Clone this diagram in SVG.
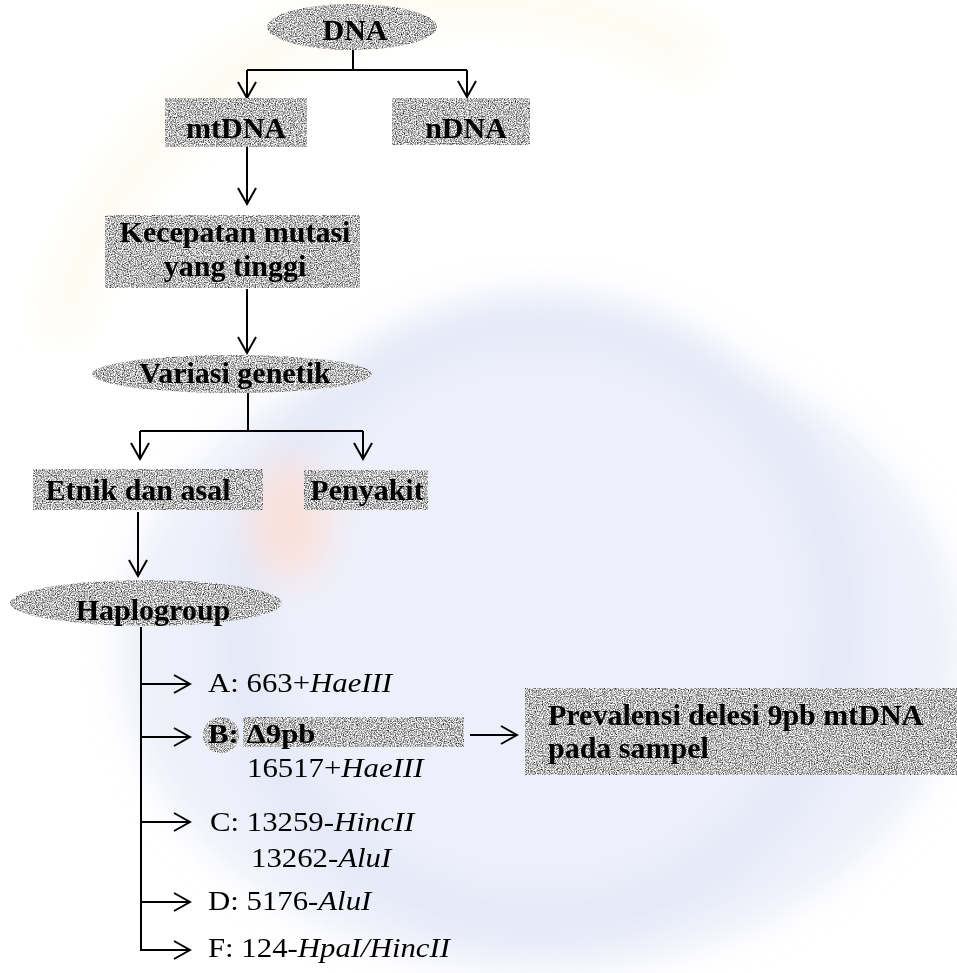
<svg xmlns="http://www.w3.org/2000/svg" width="957" height="973" viewBox="0 0 957 973">
<defs>
<style>
.lbl{font-family:"Liberation Serif","Times New Roman",serif;font-weight:bold;font-size:30px;fill:#000;text-anchor:middle}
.lbl2{font-family:"Liberation Serif","Times New Roman",serif;font-weight:bold;font-size:30px;fill:#000}
.reg{font-family:"Liberation Serif","Times New Roman",serif;font-size:28px;fill:#000}
.it{font-style:italic}
.node{fill:#bdbdbd;filter:url(#spk)}
.conn{stroke:#000;stroke-width:2;fill:none}
</style>
<filter id="spk" x="0%" y="0%" width="100%" height="100%" color-interpolation-filters="sRGB">
<feTurbulence type="fractalNoise" baseFrequency="0.85" numOctaves="2" seed="7" result="n"/>
<feColorMatrix in="n" type="matrix" values="0 0 0 1.7 -0.12  0 0 0 1.7 -0.12  0 0 0 1.7 -0.12  0 0 0 0 1" result="g"/>
<feComposite in="g" in2="SourceAlpha" operator="in"/>
</filter>
<filter id="blur" x="-20%" y="-20%" width="140%" height="140%">
<feGaussianBlur stdDeviation="18"/>
</filter>
<marker id="ah" markerUnits="userSpaceOnUse" viewBox="-19 -11 21 22" refX="0" refY="0" markerWidth="21" markerHeight="22" orient="auto">
<path d="M-16,-9 L0,0 L-16,9" fill="none" stroke="#000" stroke-width="2"/>
</marker>
</defs>
<rect width="957" height="973" fill="#ffffff"/>
<g id="watermark" filter="url(#blur)" opacity="0.55">
<path d="M60,330 A430,430 0 0 1 700,60" fill="none" stroke="#fbf0cc" stroke-width="30" opacity="0.7"/>
<ellipse cx="540" cy="650" rx="420" ry="320" fill="#dfe3f6"/>
<circle cx="540" cy="620" r="300" fill="none" stroke="#cfd5f1" stroke-width="50"/>
<ellipse cx="290" cy="520" rx="40" ry="60" fill="#f6c9bd"/>
</g>

<g id="connectors" class="conn">
<path d="M353,50 V70"/>
<path d="M247,70 H467"/>
<path d="M247,70 V98" marker-end="url(#ah)"/>
<path d="M467,70 V97" marker-end="url(#ah)"/>
<path d="M247,147 V204" marker-end="url(#ah)"/>
<path d="M247,289 V353" marker-end="url(#ah)"/>
<path d="M248,393 V431"/>
<path d="M140,431 H363"/>
<path d="M140,431 V459" marker-end="url(#ah)"/>
<path d="M363,431 V459" marker-end="url(#ah)"/>
<path d="M138,512 V576" marker-end="url(#ah)"/>
<path d="M141,627 V950 H190" marker-end="url(#ah)"/>
<path d="M141,684 H190" marker-end="url(#ah)"/>
<path d="M141,737 H190" marker-end="url(#ah)"/>
<path d="M141,822 H190" marker-end="url(#ah)"/>
<path d="M141,902 H190" marker-end="url(#ah)"/>
<path d="M470,735 H517" marker-end="url(#ah)"/>
</g>

<g id="n-dna">
<ellipse class="node" cx="352" cy="27" rx="85" ry="23"/>
<text class="lbl" x="355" y="40">DNA</text>
</g>
<g id="n-mtdna">
<rect class="node" x="165" y="98" width="142" height="49"/>
<text class="lbl" x="236" y="138">mtDNA</text>
</g>
<g id="n-ndna">
<rect class="node" x="392" y="98" width="138" height="47"/>
<text class="lbl" x="466" y="138">nDNA</text>
</g>
<g id="n-kecepatan">
<rect class="node" x="105" y="215" width="255" height="73"/>
<text class="lbl" x="235" y="242">Kecepatan mutasi</text>
<text class="lbl" x="235" y="276">yang tinggi</text>
</g>
<g id="n-variasi">
<ellipse class="node" cx="232" cy="374" rx="140" ry="19"/>
<text class="lbl" x="235" y="383">Variasi genetik</text>
</g>
<g id="n-etnik">
<rect class="node" x="33" y="469" width="230" height="41"/>
<text class="lbl" x="138" y="500">Etnik dan asal</text>
</g>
<g id="n-penyakit">
<rect class="node" x="304" y="470" width="124" height="40"/>
<text class="lbl" x="367" y="500">Penyakit</text>
</g>
<g id="n-haplogroup">
<ellipse class="node" cx="146" cy="603" rx="136" ry="23"/>
<text class="lbl" x="153" y="620">Haplogroup</text>
</g>

<g id="n-a">
<text class="reg" transform="translate(208,692) scale(1.1,1)">A: 663+<tspan class="it">HaeIII</tspan></text>
</g>
<g id="n-b">
<circle class="node" cx="221" cy="735" r="18"/>
<rect class="node" x="243" y="717" width="221" height="30"/>
<text class="lbl2" transform="translate(208,743) scale(1.1,1)" style="font-size:28px">B: Δ9pb</text>
<text class="reg" transform="translate(247,777) scale(1.1,1)">16517+<tspan class="it">HaeIII</tspan></text>
</g>
<g id="n-c">
<text class="reg" transform="translate(210,831) scale(1.1,1)">C: 13259-<tspan class="it">HincII</tspan></text>
<text class="reg" transform="translate(251,867) scale(1.1,1)">13262-<tspan class="it">AluI</tspan></text>
</g>
<g id="n-d">
<text class="reg" transform="translate(208,910) scale(1.1,1)">D: 5176-<tspan class="it">AluI</tspan></text>
</g>
<g id="n-f">
<text class="reg" transform="translate(208,957) scale(1.1,1)">F: 124-<tspan class="it">HpaI/HincII</tspan></text>
</g>

<g id="n-prevalensi">
<rect class="node" x="525" y="688" width="432" height="87"/>
<text class="lbl2" x="548" y="725">Prevalensi delesi 9pb mtDNA</text>
<text class="lbl2" x="548" y="758">pada sampel</text>
</g>
</svg>
